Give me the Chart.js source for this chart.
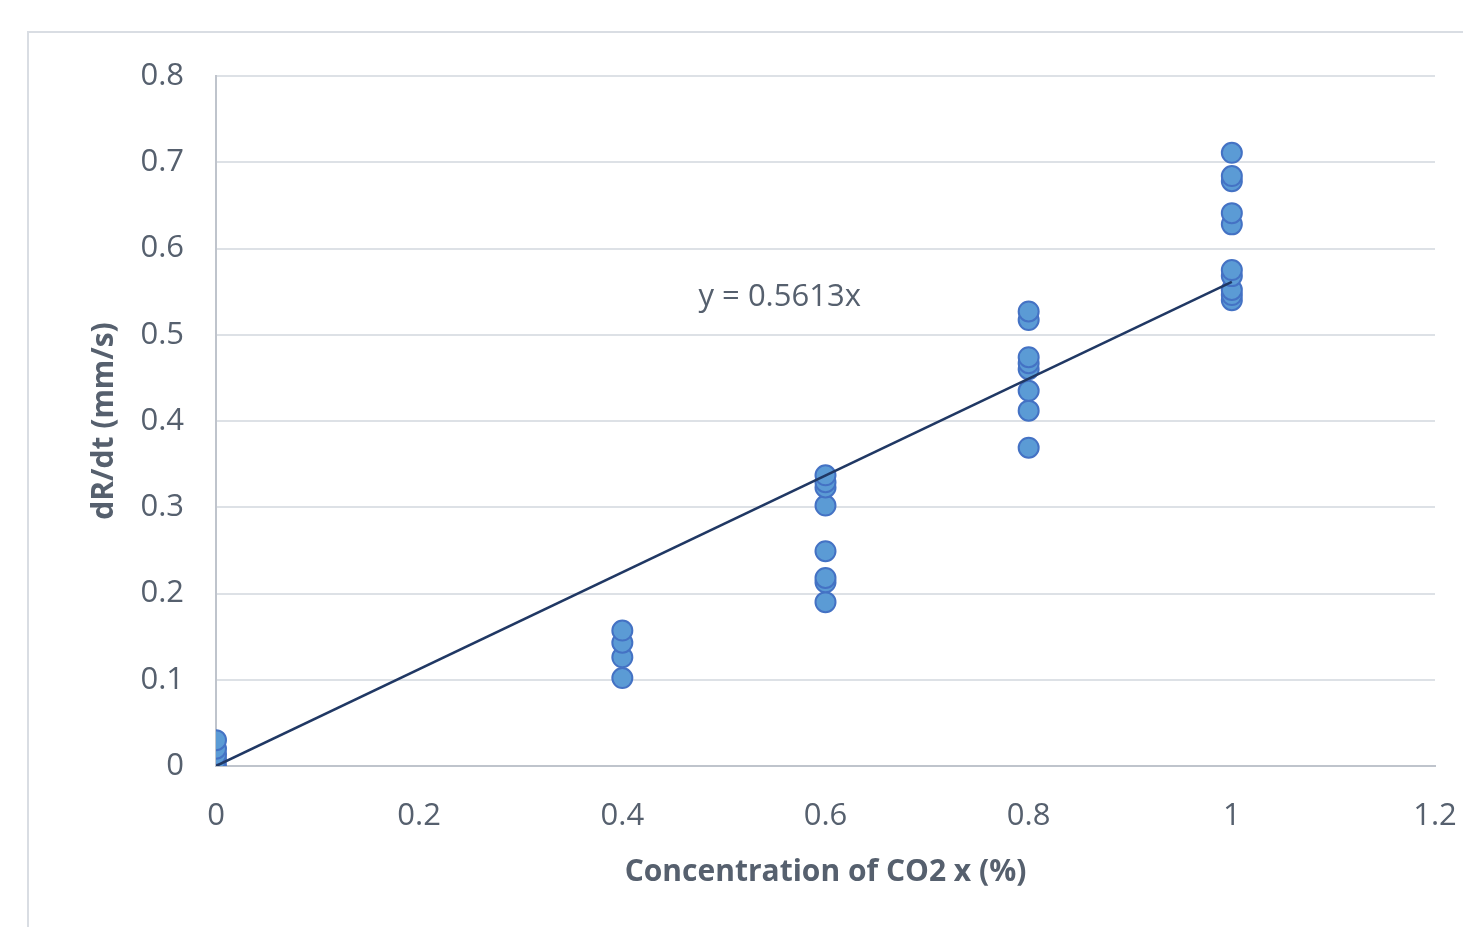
<!DOCTYPE html>
<html>
<head>
<meta charset="utf-8">
<script src="https://cdn.jsdelivr.net/npm/chart.js@4/dist/chart.umd.min.js"></script>
<style>
  html, body { margin: 0; padding: 0; background: #fff; }
  #wrap { width: 1463px; height: 927px; position: relative; }
</style>
</head>
<body>
<div id="wrap"><canvas id="chart" width="1463" height="927"></canvas></div>
<script>
// measured points, concentration x (%) vs dR/dt (mm/s)
const xConc = [
    0, 0, 0, 0, 0,
    0.4, 0.4, 0.4, 0.4,
    0.6, 0.6, 0.6, 0.6, 0.6, 0.6, 0.6, 0.6,
    0.8, 0.8, 0.8, 0.8, 0.8, 0.8, 0.8, 0.8,
    1, 1, 1, 1, 1, 1, 1, 1, 1, 1
];
const yRate = [
    0, 0.007, 0.013, 0.02, 0.03,
    0.102, 0.126, 0.143, 0.157,
    0.19, 0.213, 0.218, 0.249, 0.302, 0.323, 0.329, 0.337,
    0.369, 0.412, 0.435, 0.46, 0.467, 0.474, 0.517, 0.527,
    0.54, 0.546, 0.552, 0.568, 0.575, 0.628, 0.641, 0.678, 0.684, 0.711
];
const slope = 0.5613;
const trendX = [0, 1];
const xTicks = [0, 0.2, 0.4, 0.6, 0.8, 1, 1.2];
const yTicks = [0, 0.1, 0.2, 0.3, 0.4, 0.5, 0.6, 0.7, 0.8];
const xTitle = 'Concentration of CO2 x (%)';
const yTitle = 'dR/dt (mm/s)';

const FONT = "'Open Sans', 'Liberation Sans', sans-serif";
const TEXT = '#56606e';
const points = xConc.map((x, i) => ({ x: x, y: yRate[i] }));
const trend = trendX.map(x => ({ x: x, y: slope * x }));

// frame, axis titles and trendline equation
const extras = {
    id: 'extras',
    beforeDraw(chart) {
        const ctx = chart.ctx;
        ctx.save();
        ctx.fillStyle = '#fff';
        ctx.fillRect(0, 0, chart.width, chart.height);
        ctx.strokeStyle = '#d9dde3';
        ctx.lineWidth = 2;
        ctx.strokeRect(28, 32, 1500, 1000);
        ctx.restore();
    },
    afterDatasetsDraw(chart) {
        const ctx = chart.ctx;
        const xs = chart.scales.x, ys = chart.scales.y;
        const a = chart.chartArea;
        ctx.save();
        ctx.fillStyle = TEXT;
        ctx.textBaseline = 'middle';
        ctx.font = '31px ' + FONT;
        ctx.fillText('y = 0.5613x', xs.getPixelForValue(0.475), ys.getPixelForValue(0.543));

        ctx.font = 'bold 30px ' + FONT;
        ctx.textAlign = 'center';
        ctx.fillText(xTitle, (a.left + a.right) / 2, 872);
        ctx.translate(104, (a.top + a.bottom) / 2);
        ctx.rotate(-Math.PI / 2);
        ctx.fillText(yTitle, 0, 0);
        ctx.restore();
    }
};

new Chart(document.getElementById('chart'), {
    type: 'scatter',
    data: {
        datasets: [
            {
                type: 'line',
                data: trend,
                borderColor: '#203864',
                borderWidth: 2.5,
                pointRadius: 0,
                fill: false,
                order: 0
            },
            {
                data: points,
                backgroundColor: '#5b9bd5',
                borderColor: '#4472c4',
                borderWidth: 2,
                pointRadius: 10,
                order: 1
            }
        ]
    },
    options: {
        responsive: false,
        animation: false,
        layout: { padding: { top: 76, right: 28, left: 0, bottom: 0 } },
        plugins: {
            legend: { display: false },
            tooltip: { enabled: false }
        },
        scales: {
            x: {
                type: 'linear',
                min: 0,
                max: 1.2,
                afterBuildTicks(s) { s.ticks = xTicks.map(v => ({ value: v })); },
                afterFit(s) {
                    s.height = 161;
                    s.paddingLeft = 0;
                    s.paddingRight = 0;
                },
                grid: { display: false, drawTicks: false },
                border: { display: true, color: '#bfc4cc', width: 2 },
                ticks: {
                    padding: 32,
                    color: TEXT,
                    font: { family: FONT, size: 31 },
                    maxRotation: 0,
                    callback: v => String(v)
                }
            },
            y: {
                type: 'linear',
                min: 0,
                max: 0.8,
                afterBuildTicks(s) { s.ticks = yTicks.map(v => ({ value: v })); },
                afterFit(s) {
                    s.width = 216;
                    s.paddingTop = 0;
                    s.paddingBottom = 0;
                },
                grid: { color: '#dde1e6', lineWidth: 2, drawTicks: false },
                border: { display: true, color: '#bfc4cc', width: 2 },
                ticks: {
                    padding: 32,
                    color: TEXT,
                    font: { family: FONT, size: 31 },
                    callback: v => String(v)
                }
            }
        }
    },
    plugins: [extras]
});
</script>
</body>
</html>
